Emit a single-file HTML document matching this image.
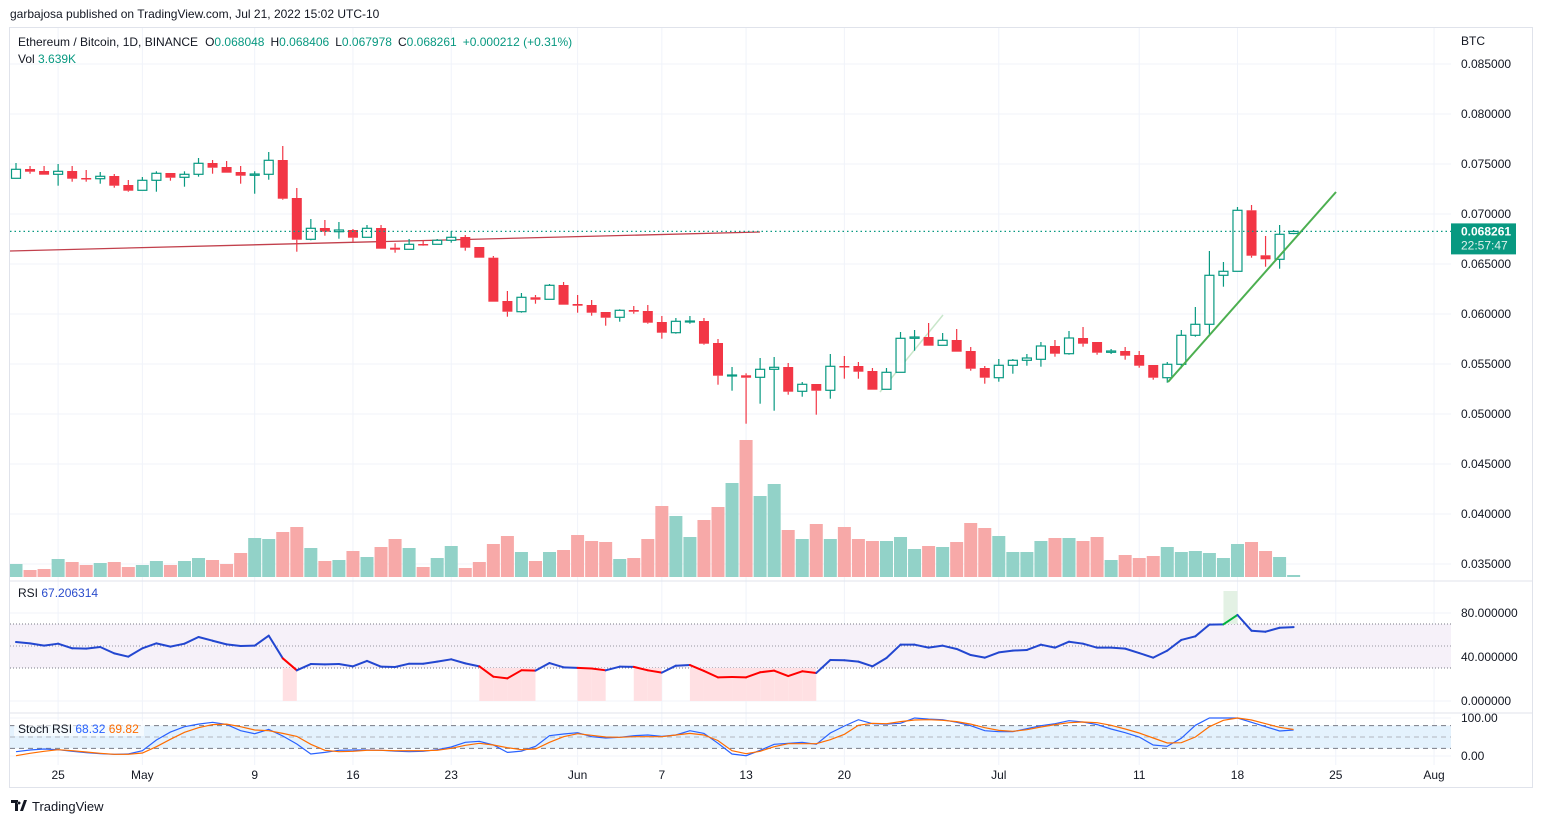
<!DOCTYPE html>
<html><head><meta charset="utf-8">
<style>
html,body{margin:0;padding:0;background:#fff;}
svg{display:block;font-family:"Liberation Sans",sans-serif;}
</style></head>
<body>
<svg id="chart" width="1543" height="824" viewBox="0 0 1543 824" xmlns="http://www.w3.org/2000/svg">
<rect x="0" y="0" width="1543" height="824" fill="#fff"/>
<text x="10" y="18" font-size="12" fill="#131722">garbajosa published on TradingView.com, Jul 21, 2022 15:02 UTC-10</text>
<rect x="9.5" y="27.5" width="1523" height="760" fill="none" stroke="#e0e3eb"/>
<g id="grid"></g>
<rect x="10" y="624" width="1441" height="44" fill="#f6f1f9"/>
<rect x="10" y="725.6" width="1441" height="22.8" fill="#e4f2fd"/>
<g id="plots"></g>
<line x1="10" y1="581" x2="1533" y2="581" stroke="#e0e3eb"/>
<line x1="10" y1="713" x2="1533" y2="713" stroke="#e0e3eb"/>
<g id="axes"></g>
<text x="18" y="46" font-size="12" fill="#131722">Ethereum / Bitcoin, 1D, BINANCE<tspan dx="7">O</tspan><tspan fill="#089981">0.068048</tspan><tspan dx="6">H</tspan><tspan fill="#089981">0.068406</tspan><tspan dx="6">L</tspan><tspan fill="#089981">0.067978</tspan><tspan dx="6">C</tspan><tspan fill="#089981">0.068261</tspan><tspan dx="6" fill="#089981">+0.000212 (+0.31%)</tspan></text>
<text x="18" y="63" font-size="12" fill="#131722">Vol <tspan fill="#089981">3.639K</tspan></text>
<text x="18" y="597" font-size="12" fill="#131722">RSI <tspan fill="#2a4ccc">67.206314</tspan></text>
<rect x="14" y="721" width="130" height="15" fill="#fff" opacity="0.6"/>
<text x="18" y="733" font-size="12" fill="#131722">Stoch RSI <tspan fill="#2962ff">68.32</tspan> <tspan fill="#ff6d00">69.82</tspan></text>
<text x="1461" y="45" font-size="12" fill="#131722">BTC</text>
<g>
<path d="M11 800 h7 v11 h-3 v-8 h-4z M20 811 l4 -11 h3 l-4 11z M19 801.5 a1.5 1.5 0 1 0 0.1 0" fill="#131722"/>
<text x="32" y="811" font-size="13" fill="#131722">TradingView</text>
</g>
</svg>
<script>
// price data in units of 0.0001 BTC
const openE4=[735.7,745,743,739.7,743,736,735.3,738,729,723.7,733.7,741,736.7,739.7,751,747,742,738.7,739.7,754,716,674.7,686,682.3,684,676.7,686,666.3,664.7,670,669.7,673.7,677,667,656.3,613,602.3,616.7,614.7,629,610,609,602,596.7,604,603,592,581.3,592.3,593,571,538.3,538.7,536.7,544.7,547,522.7,530,523.7,548,548,543,524.7,541.7,575.7,577,568.7,574,563,546,536.3,548.7,553.7,554.7,568,560.3,576,572,561.7,563,559,549,536.3,549.7,578.7,589.7,638.7,642.7,703.7,658.7,654.7,680.5];
const highE4=[751,748,748,750,748,744,742,740,734,737,742.7,741,742.7,756,754,753,748,742.7,762,768,726,695,694,692,685,689,689,670.7,675,674,675,683,679,667,658,623,621,619,630,632,619,614,602,604.7,608,609,598,596,598,596,575,547,540.7,556,557,551,532,530,560,558,552,546,546,582,584,591,581,585,567,548,555,555,560,572,574,583,587,572,565,567,563,549,552,584,607,663,652,707,709,678,689,684];
const lowE4=[735.7,740.3,739.3,728.3,732.3,732.3,730.3,726.3,722.3,723.7,722.3,733.3,727.3,737.3,740.3,741.3,730.3,720.3,734.3,714.3,662.3,673.7,678.3,675.3,672.3,676.7,665.3,661.3,664.7,668.3,669.7,671.3,663.3,656.3,612.3,597.3,601.3,610.3,614.7,609.3,601.3,598.3,588.3,592.3,600.3,590.3,575.3,580.3,590.3,569.3,529.3,523.3,490.3,510.3,503.3,519.3,517.3,499.3,515.3,535.3,535.3,524.3,524.7,541.7,563.3,568.3,568.7,562.3,543.3,530.3,532.3,540.3,548.3,547.3,557.3,559.3,567.3,559.3,560,554.3,546.3,534.3,531.3,545.7,577.3,579.7,627.3,642.7,656.3,647.3,645.3,679.8];
const closeE4=[744.7,742.3,739.3,742.7,735.3,735.3,737.7,728.3,723.3,733.7,740.7,736.3,739.7,750.7,746.3,741.3,738.3,740,753.7,715.3,674.3,685.7,682.3,684,676.3,685.7,665.3,664.3,669.7,669,673.7,676.7,666.3,656.3,612.3,602.3,616.7,614.3,628.7,609.3,608.3,601.3,596.3,603.7,602.3,591.3,581.3,592.7,593,570.3,538.3,539,536.3,544.7,546.7,522.3,529.7,523.3,547.7,547.3,542.3,524.3,541.7,575.7,577,568.3,573.7,562.3,545.3,536.3,548.7,553.7,556,568,560.3,576,570.3,561.3,563,558.3,548.3,536.3,549.7,578.7,589.7,638.7,642.7,703.7,658.3,654.7,679.7,682.6];
const volume=[13,7,8,18,15,12,14,15,10,12,16,12,16,19,17,13,24,39,38,45,50,29,16,17,26,20,30,38,29,10,19,31,9,15,33,41,25,16,25,27,42,36,35,18,19,38,71,61,40,57,70,94,137,81,93,47,38,53,38,50,38,36,36,40,28,31,30,35,54,49,41,25,25,36,39,39,36,40,17,22,19,21,30,25,26,24,19,33,35,26,20,2];
const rsi=[53.6,52.4,50.3,52.1,47.9,47.6,49.1,43.3,40.3,47.9,52.4,49.4,52.1,58.2,54.8,51.5,50,50.3,59.4,38.8,27.9,33.6,33.3,33.6,31.5,36.4,31.2,30.9,33.9,33.9,35.8,37.9,34.2,31.5,22.1,20.6,27.9,27.6,34.5,30.6,30.1,29.5,27.9,31.2,31,27.9,25.8,32.1,32.7,27.3,21.5,21.8,21.5,26.1,27.6,22.7,27,25.5,37.3,37,35.8,31.5,39.1,51.2,51.2,48.5,50.3,47.3,41.8,39.4,44.2,45.8,46.4,51.2,48.5,53.9,52.1,48.5,48.5,47.6,43.6,39.4,45.8,55.5,58.8,69.4,69.7,78.2,63.9,63,66.6,67.2];
const stochK=[11.4,15.8,18.4,16.7,12.3,8.8,6.1,4.4,5.3,14,42,63,77,84,88.6,83,66.7,58.8,70,52.6,31.6,5.3,9.6,15,15.8,15.8,15,13,11.4,12.3,16.7,23.7,36,38.6,29,9.6,13,25.4,53.5,58,61.4,50.9,47.4,49.1,53.5,55.3,51.7,55.3,66.7,59.6,33.3,5.3,0.9,15,30.7,33.3,36,30.7,60.5,79,95.6,85,84,86,100,97,95.6,88.6,79.8,66.7,64,64,71.9,79.8,85,93,89.5,82.5,71,61.4,50,29,25.4,46.5,80.7,100,100,100,88.6,77,65.8,68.3];
const stochD=[0.9,7,12.3,16.7,14,10.5,7,4.4,4.4,7.9,24.6,43.9,62.3,74.6,82.5,84,77,68.4,66.7,59.6,51.7,30.7,15,11.4,12.3,15,15,14,14,14,15,20.2,28.1,33.3,29,21.9,16.7,18.4,36,50.9,58.8,54.4,50,49.1,50.9,50.9,50.9,55.3,59.6,55.3,40.4,14,6.1,12.3,24.6,32.4,32.4,32.4,43,57,80.7,86,85,90.4,94.7,95.6,93.9,90.4,84,74.6,67.5,64.9,69.3,76.2,82.5,87.7,89.5,87.7,80.7,71,60.5,47.4,34.2,35,50,77,93.9,100,94.7,85,75.4,69.8];
const priceTicks=[0.085,0.080,0.075,0.070,0.065,0.060,0.055,0.050,0.045,0.040,0.035];
const priceTickLabels=["0.085000","0.080000","0.075000","0.070000","0.065000","0.060000","0.055000","0.050000","0.045000","0.040000","0.035000"];
const dateIdx=[3,9,17,24,31,40,46,52,59,70,80,87,94,101];
const dateLabels=["25","May","9","16","23","Jun","7","13","20","Jul","11","18","25","Aug"];
const rsiTicks=[80,40,0];
const rsiTickLabels=["80.000000","40.000000","0.000000"];
const stochTicks=[100,0];
const stochTickLabels=["100.00","0.00"];
const lastPrice=0.068261;
const lastLabel=["0.068261","22:57:47"];

const NS="http://www.w3.org/2000/svg";
function mk(tag,attrs,parent){const e=document.createElementNS(NS,tag);for(const k in attrs)e.setAttribute(k,attrs[k]);parent.appendChild(e);return e;}
const xOf=i=>16+14.04*i;
const yP=p=>64+(0.085-p)*10000;
const yVol=v=>577-v;
const yRsi=v=>701-v*1.1;
const ySt=v=>756-v*0.38;

const grid=document.getElementById('grid');
const plots=document.getElementById('plots');
const axes=document.getElementById('axes');
const clip=mk('clipPath',{id:'plotclip'},mk('defs',{},document.getElementById('chart')));
mk('rect',{x:10,y:28,width:1441,height:760},clip);
plots.setAttribute('clip-path','url(#plotclip)');

priceTicks.forEach((p,k)=>{
  const l=mk('line',{x1:10,x2:1451,y1:yP(p),y2:yP(p),stroke:'#f0f3fa'},grid);
  
  
  const t=mk('text',{x:1461,y:yP(p)+4,'font-size':12,fill:'#131722'},axes);
  t.textContent=priceTickLabels[k];
  
  
});
dateIdx.forEach((d,k)=>{
  const x=xOf(d);
  const l=mk('line',{x1:x,x2:x,y1:28,y2:765,stroke:'#f0f3fa'},grid);
  
  
  const t=mk('text',{x:x,y:779,'font-size':12,fill:'#131722','text-anchor':'middle'},axes);
  t.textContent=dateLabels[k];
  
  
});
rsiTicks.forEach((v,k)=>{
  mk('line',{x1:10,x2:1451,y1:yRsi(v),y2:yRsi(v),stroke:'#f0f3fa'},grid);
  const t=mk('text',{x:1461,y:yRsi(v)+4,'font-size':12,fill:'#131722'},axes);
  t.textContent=rsiTickLabels[k];
  
  
});
stochTicks.forEach((v,k)=>{
  mk('line',{x1:10,x2:1451,y1:ySt(v),y2:ySt(v),stroke:'#f0f3fa'},grid);
  const t=mk('text',{x:1461,y:ySt(v)+4,'font-size':12,fill:'#131722'},axes);
  t.textContent=stochTickLabels[k];
  
  
});

const n=closeE4.length;
for(let i=0;i<n;i++){
  const up=closeE4[i]>=openE4[i];
  const r=mk('rect',{x:xOf(i)-6.5,y:yVol(volume[i]),width:13,height:volume[i],fill:up?'#92d2c8':'#f7a9a8'},plots);
  
  
}
const tl1=mk('line',{x1:10,y1:251,x2:760,y2:232,stroke:'#c2404c','stroke-width':1.3},plots);


const tl3=mk('line',{x1:880,y1:392,x2:943,y2:315,stroke:'#a5d6a7','stroke-width':1.5,opacity:0.6},plots);


for(let i=0;i<n;i++){
  const o=openE4[i]/1e4,h=highE4[i]/1e4,l=lowE4[i]/1e4,c=closeE4[i]/1e4;
  const up=c>=o,x=xOf(i),col=up?'#089981':'#f23645';
  const g=mk('g',{},plots);
  
  
  const top=yP(Math.max(o,c)),bot=yP(Math.min(o,c));
  mk('line',{x1:x,x2:x,y1:yP(h),y2:top,stroke:col,'stroke-width':1.2},g);
  mk('line',{x1:x,x2:x,y1:bot,y2:yP(l),stroke:col,'stroke-width':1.2},g);
  if(up) mk('rect',{x:x-4.5,y:top,width:9,height:Math.max(bot-top,1),fill:'#fff',stroke:col,'stroke-width':1.2},g);
  else mk('rect',{x:x-5,y:top,width:10,height:Math.max(bot-top,1.5),fill:col},g);
}
const tl2=mk('line',{x1:1168,y1:382,x2:1336,y2:192,stroke:'#4caf50','stroke-width':2},plots);


const lp=mk('line',{x1:10,x2:1451,y1:yP(lastPrice),y2:yP(lastPrice),stroke:'#089981','stroke-dasharray':'1.5 3','stroke-width':1.2},plots);


[[70,'#787b86'],[50,'#9598a1'],[30,'#787b86']].forEach(([v,c])=>{
  mk('line',{x1:10,x2:1451,y1:yRsi(v),y2:yRsi(v),stroke:c,'stroke-dasharray':'1 2'},plots);
});
for(let i=1;i<n;i++){
  if(rsi[i]<30){
    const f=mk('rect',{x:xOf(i-1),y:yRsi(30),width:xOf(i)-xOf(i-1),height:yRsi(0)-yRsi(30),fill:'#ffe0e3'},plots);
    
    
  }
  if(rsi[i]>70){
    const f=mk('rect',{x:xOf(i-1),y:yRsi(100),width:xOf(i)-xOf(i-1),height:yRsi(70)-yRsi(100),fill:'#e3f1e4'},plots);
    
    
  }
}
for(let i=1;i<n;i++){
  const col=rsi[i]<30?'#ff0000':(rsi[i]>70?'#00b33c':'#2347d0');
  const s=mk('line',{x1:xOf(i-1),y1:yRsi(rsi[i-1]),x2:xOf(i),y2:yRsi(rsi[i]),stroke:col,'stroke-width':2,'stroke-linecap':'round'},plots);
  
  
}
mk('line',{x1:10,x2:1451,y1:ySt(80),y2:ySt(80),stroke:'#787b86','stroke-dasharray':'5 4'},plots);
mk('line',{x1:10,x2:1451,y1:ySt(50),y2:ySt(50),stroke:'#b2b5be','stroke-dasharray':'5 4'},plots);
mk('line',{x1:10,x2:1451,y1:ySt(20),y2:ySt(20),stroke:'#787b86','stroke-dasharray':'5 4'},plots);
function poly(arr,yf,col,name){
  const pts=arr.map((v,i)=>xOf(i).toFixed(1)+','+yf(v).toFixed(1)).join(' ');
  const p=mk('polyline',{points:pts,fill:'none',stroke:col,'stroke-width':1.2},plots);
  
  
}
poly(stochK,ySt,'#2962ff','stoch-k-line');
poly(stochD,ySt,'#ff6d00','stoch-d-line');
const ly=yP(lastPrice);
const lb=mk('rect',{x:1451,y:ly-8,width:65,height:31,fill:'#089981'},axes);


const t1=mk('text',{x:1461,y:ly+4,'font-size':12,'font-weight':'bold',fill:'#fff'},axes);
t1.textContent=lastLabel[0];
const t2=mk('text',{x:1461,y:ly+18,'font-size':12,fill:'#e0f2ef'},axes);
t2.textContent=lastLabel[1];
</script>
</body></html>
